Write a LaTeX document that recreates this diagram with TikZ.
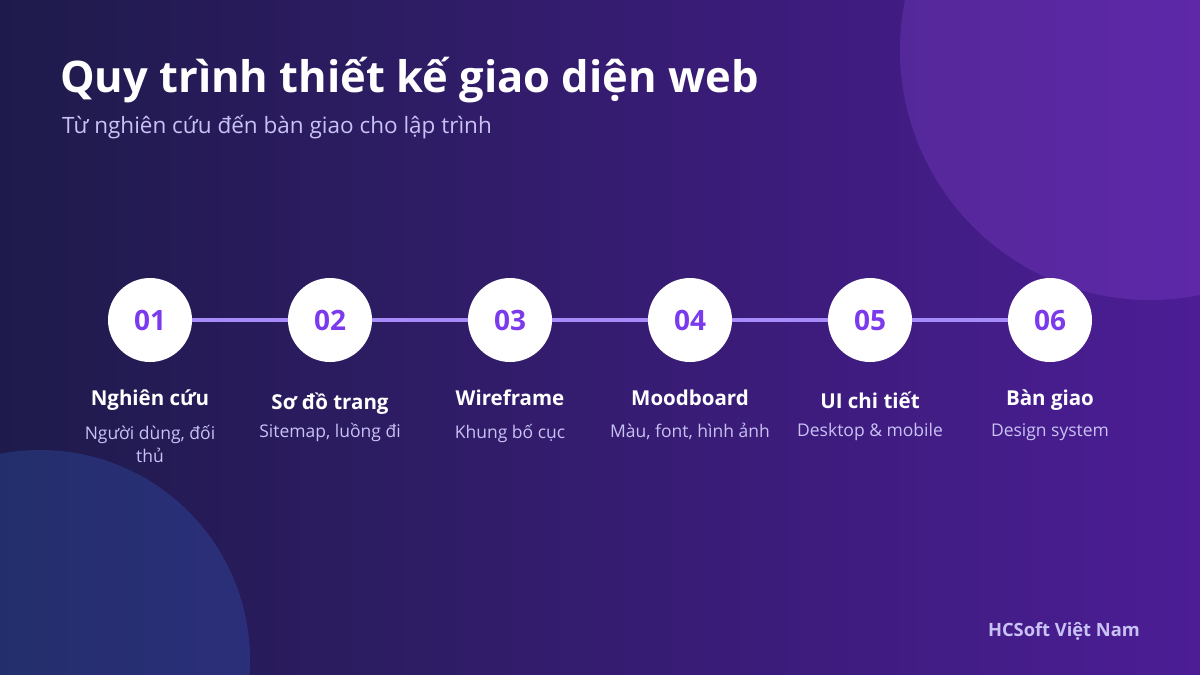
\documentclass[tikz,border=0pt]{standalone}
\usepackage{fontspec}
\setmainfont{Open Sans}
\usepackage{tikz}
\usetikzlibrary{positioning}
\definecolor{bgleft}{HTML}{1E1B4B}
\definecolor{bgright}{HTML}{4C1D95}
\definecolor{blobviolet}{HTML}{A855F7}
\definecolor{blobblue}{HTML}{3B82F6}
\definecolor{stepviolet}{HTML}{7C3AED}
\definecolor{lineviolet}{HTML}{A78BFA}
\definecolor{lavender}{HTML}{C9C2F5}
\tikzstyle{stepcircle} = [circle, fill=white, minimum size=84pt, inner sep=0pt,
    outer sep=0pt, text=stepviolet, font=\fontsize{28}{30}\selectfont\bfseries]
\tikzstyle{steptitle} = [text=white, font=\fontsize{20.5}{24}\selectfont\bfseries, anchor=base]
\tikzstyle{stepnote} = [text=lavender, font=\fontsize{17.5}{23}\selectfont, align=center, anchor=base]
\tikzstyle{stepline} = [draw=lineviolet, line width=4pt]

\begin{document}
\begin{tikzpicture}[x=1pt,y=-1pt]
  % Background
  \shade[left color=bgleft, right color=bgright] (0,0) rectangle (1200,675);
  \useasboundingbox (0,0) rectangle (1200,675);
  \fill[blobviolet, fill opacity=0.2] (1150,50) circle (250);
  \fill[blobblue, fill opacity=0.2] (40,660) circle (210);
  % Heading
  \node[anchor=base west, text=white, font=\fontsize{43.5}{50}\selectfont\bfseries, inner sep=0pt]
    (title) at (60,92) {Quy trình thiết kế giao diện web};
  \node[anchor=base west, text=lavender, font=\fontsize{22.5}{26}\selectfont, inner sep=0pt]
    (subtitle) at (62,133) {Từ nghiên cứu đến bàn giao cho lập trình};
  % Place steps
  \node[stepcircle] (s1) at (150,320) {01};
  \node[stepcircle, right=96pt of s1] (s2) {02};
  \node[stepcircle, right=96pt of s2] (s3) {03};
  \node[stepcircle, right=96pt of s3] (s4) {04};
  \node[stepcircle, right=96pt of s4] (s5) {05};
  \node[stepcircle, right=96pt of s5] (s6) {06};
  % Draw edges
  \draw[stepline] (s1) -- (s2);
  \draw[stepline] (s2) -- (s3);
  \draw[stepline] (s3) -- (s4);
  \draw[stepline] (s4) -- (s5);
  \draw[stepline] (s5) -- (s6);
  % Step titles
  \node[steptitle, below=43pt of s1, anchor=base] (t1) {Nghiên cứu};
  \node[steptitle, below=47pt of s2, anchor=base] (t2) {Sơ đồ trang};
  \node[steptitle, below=43pt of s3, anchor=base] (t3) {Wireframe};
  \node[steptitle, below=43pt of s4, anchor=base] (t4) {Moodboard};
  \node[steptitle, below=46pt of s5, anchor=base] (t5) {UI chi tiết};
  \node[steptitle, below=43pt of s6, anchor=base] (t6) {Bàn giao};
  % Step notes
  \node[stepnote, below=100pt of s1, anchor=base] (n1) {Người dùng, đối\\thủ};
  \node[stepnote, below=75pt of s2, anchor=base] (n2) {Sitemap, luồng đi};
  \node[stepnote, below=76pt of s3, anchor=base] (n3) {Khung bố cục};
  \node[stepnote, below=75pt of s4, anchor=base] (n4) {Màu, font, hình ảnh};
  \node[stepnote, below=74pt of s5, anchor=base] (n5) {Desktop \& mobile};
  \node[stepnote, below=74pt of s6, anchor=base] (n6) {Design system};
  % Footer
  \node[anchor=base east, text=lavender, font=\fontsize{18.3}{20}\selectfont\bfseries, inner sep=0pt]
    (brand) at (1140,636) {HCSoft Việt Nam};
\end{tikzpicture}
\end{document}
